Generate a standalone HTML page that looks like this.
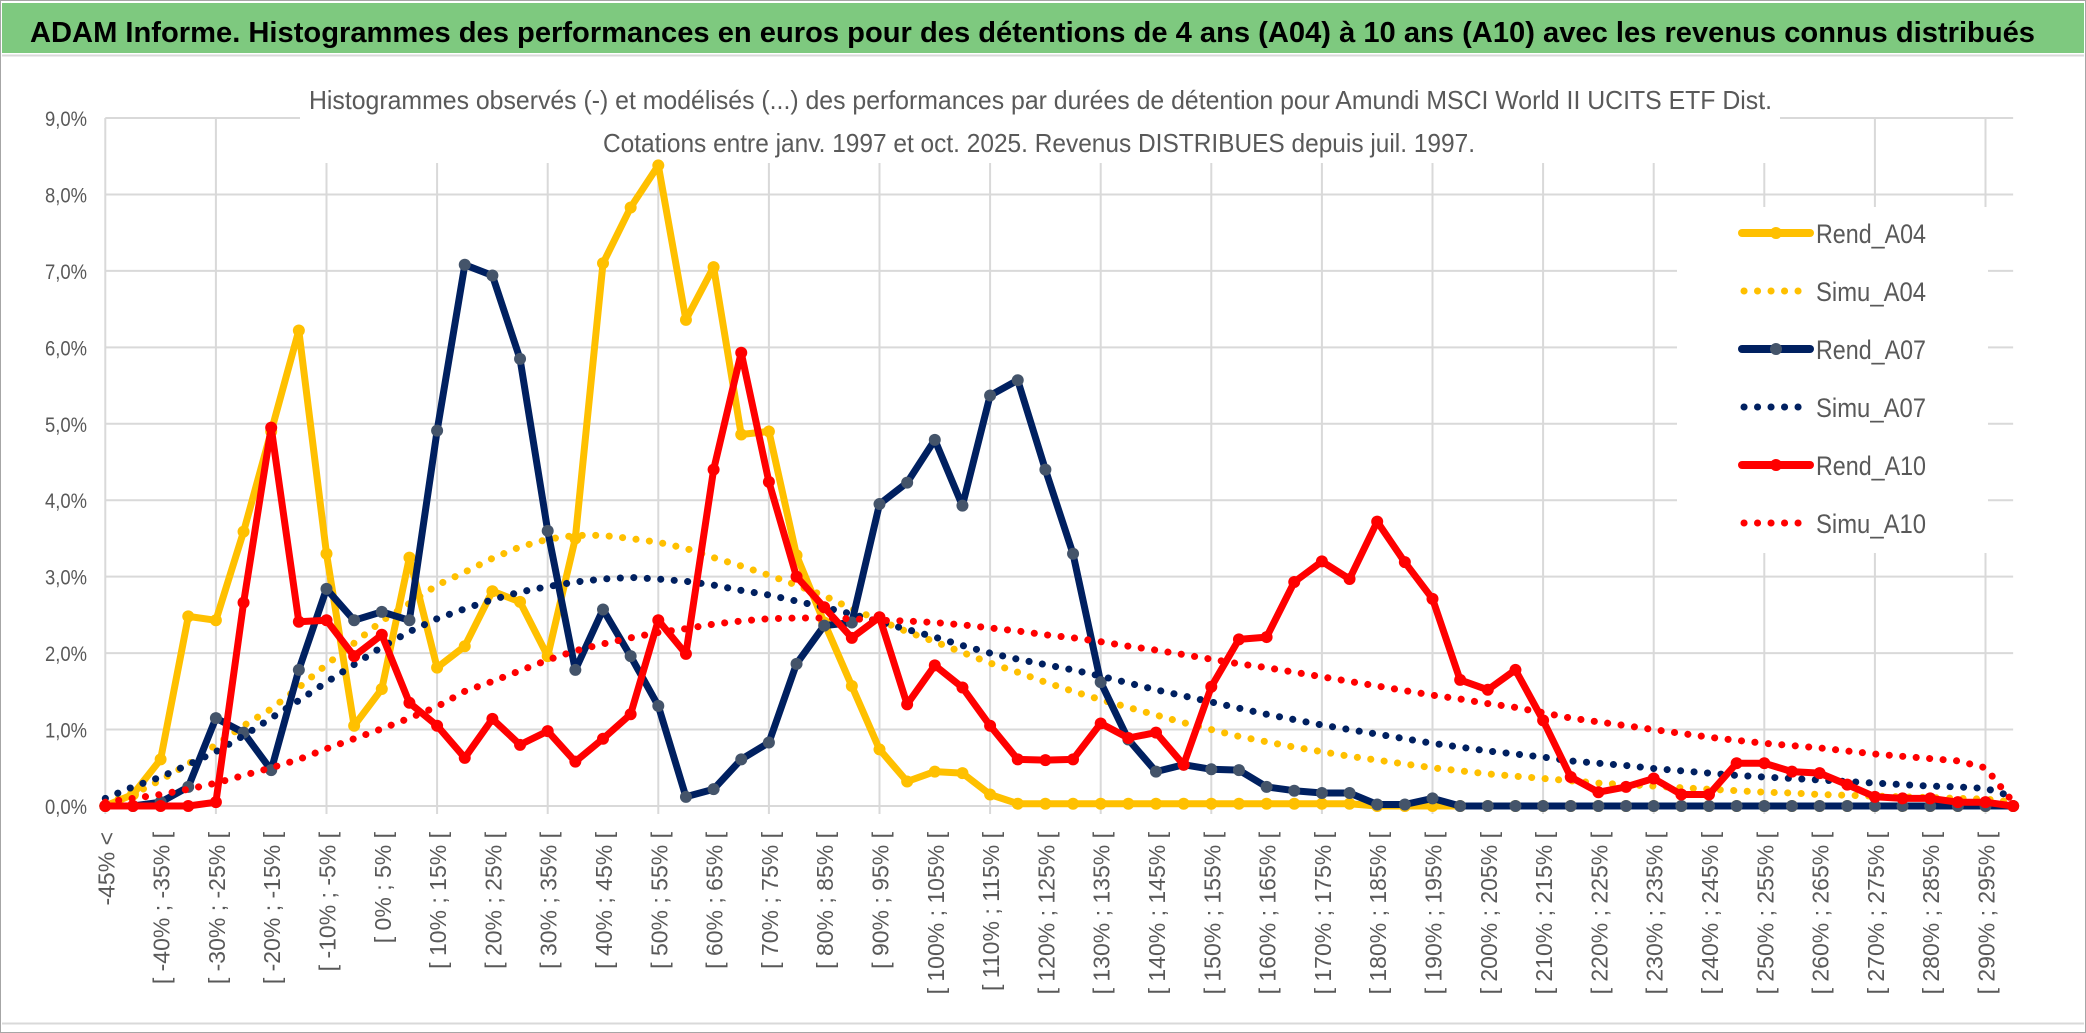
<!DOCTYPE html>
<html><head><meta charset="utf-8"><style>
html,body{margin:0;padding:0;background:#fff;}
svg{display:block;font-family:"Liberation Sans",sans-serif;}
</style></head><body>
<svg id="chart" width="2086" height="1033" viewBox="0 0 2086 1033" xmlns="http://www.w3.org/2000/svg">
<rect x="0.5" y="0.5" width="2085" height="1032" fill="#fff" stroke="#a6a6a6"/>
<rect x="2" y="3" width="2082" height="50" fill="#7ec97f"/>
<line x1="2" y1="55.5" x2="2084" y2="55.5" stroke="#d9d9d9" stroke-width="2"/>
<line x1="2" y1="1023.5" x2="2084" y2="1023.5" stroke="#d9d9d9" stroke-width="2"/>
<text x="30" y="42" font-size="29" font-weight="bold" fill="#000" textLength="2005" lengthAdjust="spacingAndGlyphs">ADAM Informe. Histogrammes des performances en euros pour des détentions de 4 ans (A04) à 10 ans (A10) avec les revenus connus distribués</text>
<g id="grid"></g>
<rect x="300" y="62" width="1480" height="101" fill="#fff"/>
<rect x="1677" y="207" width="311" height="346" fill="#fff"/>
<text x="309" y="109" font-size="26" fill="#595959" textLength="1463" lengthAdjust="spacingAndGlyphs">Histogrammes observés (-) et modélisés (...) des performances par durées de détention pour Amundi MSCI World II UCITS ETF Dist.</text>
<text x="603" y="152" font-size="26" fill="#595959" textLength="872" lengthAdjust="spacingAndGlyphs">Cotations entre janv. 1997 et oct. 2025. Revenus DISTRIBUES depuis juil. 1997.</text>
<g id="yaxis"></g>
<g id="xaxis"></g>
<g id="series"></g>
<g id="legend"></g>
</svg>
<script>
const categories = ["-45% <"];
for (let lo = -45; lo < 300; lo += 5) categories.push("[ " + lo + "% ; " + (lo + 5) + "% [");

const yTicks = [0,1,2,3,4,5,6,7,8,9];
const yTickLabels = ["0,0%","1,0%","2,0%","3,0%","4,0%","5,0%","6,0%","7,0%","8,0%","9,0%"];

const rendA04 = [0,0.15,0.61,2.48,2.43,3.59,4.9,6.22,3.30,1.05,1.53,3.25,1.81,2.09,2.81,2.67,1.96,3.50,7.10,7.83,8.38,6.36,7.05,4.86,4.90,3.28,2.40,1.57,0.74,0.32,0.45,0.43,0.15,0.03,0.03,0.03,0.03,0.03,0.03,0.03,0.03,0.03,0.03,0.03,0.03,0.03,0,0,0,0,0,0,0,0,0,0,0,0,0,0,0,0,0,0,0,0,0,0,0,0];
const simuA04 = [0.05,0.15,0.34,0.55,0.8,1.05,1.27,1.55,1.85,2.13,2.42,2.65,2.89,3.06,3.24,3.39,3.49,3.54,3.54,3.50,3.45,3.37,3.25,3.14,3.02,2.89,2.75,2.58,2.43,2.28,2.15,2.01,1.87,1.75,1.62,1.50,1.39,1.29,1.19,1.09,1.00,0.91,0.84,0.77,0.71,0.65,0.60,0.55,0.50,0.46,0.42,0.39,0.36,0.33,0.30,0.28,0.26,0.24,0.22,0.20,0.18,0.17,0.15,0.14,0.13,0.12,0.11,0.10,0.09,0.05];
const rendA07 = [0,0,0.05,0.25,1.15,0.96,0.47,1.78,2.84,2.43,2.54,2.43,4.91,7.08,6.94,5.85,3.60,1.78,2.57,1.96,1.31,0.12,0.22,0.61,0.83,1.86,2.36,2.40,3.95,4.23,4.79,3.93,5.37,5.57,4.40,3.30,1.62,0.87,0.45,0.54,0.48,0.47,0.25,0.20,0.17,0.17,0.02,0.02,0.10,0,0,0,0,0,0,0,0,0,0,0,0,0,0,0,0,0,0,0,0,0];
const simuA07 = [0.1,0.25,0.38,0.54,0.71,0.92,1.15,1.38,1.62,1.85,2.08,2.28,2.45,2.58,2.70,2.80,2.87,2.93,2.97,2.99,2.97,2.94,2.89,2.82,2.76,2.68,2.60,2.51,2.41,2.31,2.21,2.10,2.00,1.92,1.85,1.78,1.70,1.61,1.52,1.44,1.36,1.28,1.20,1.13,1.06,1.00,0.94,0.88,0.82,0.77,0.72,0.68,0.64,0.59,0.56,0.53,0.49,0.46,0.43,0.40,0.38,0.36,0.34,0.32,0.30,0.28,0.26,0.25,0.23,0.12];
const rendA10 = [0,0,0,0,0.05,2.66,4.95,2.41,2.43,1.96,2.24,1.35,1.05,0.63,1.14,0.80,0.98,0.58,0.88,1.20,2.43,1.99,4.40,5.93,4.24,3.00,2.60,2.20,2.47,1.33,1.84,1.55,1.05,0.61,0.60,0.61,1.08,0.89,0.96,0.54,1.56,2.18,2.21,2.93,3.20,2.97,3.72,3.19,2.71,1.65,1.52,1.78,1.12,0.38,0.18,0.25,0.36,0.15,0.15,0.56,0.56,0.45,0.43,0.28,0.12,0.10,0.10,0.05,0.05,0];
const simuA10 = [0.05,0.1,0.15,0.22,0.30,0.40,0.50,0.61,0.75,0.88,1.01,1.15,1.30,1.50,1.63,1.77,1.91,2.03,2.12,2.20,2.27,2.32,2.38,2.42,2.45,2.46,2.46,2.45,2.43,2.42,2.40,2.37,2.33,2.29,2.24,2.20,2.15,2.09,2.04,1.98,1.92,1.86,1.81,1.75,1.69,1.63,1.57,1.51,1.45,1.40,1.34,1.29,1.22,1.15,1.10,1.05,1.00,0.95,0.90,0.86,0.82,0.79,0.76,0.72,0.68,0.65,0.62,0.59,0.50,0.05];

const seriesNames = ["Rend_A04","Simu_A04","Rend_A07","Simu_A07","Rend_A10","Simu_A10"];

const NS = "http://www.w3.org/2000/svg";
const X0 = 105.3, DX = 27.65, Y0 = 806, DY = 76.44;
function xPos(i){ return X0 + i * DX; }
function yPos(v){ return Y0 - v * DY; }
function mk(tag, attrs, parent){ const e = document.createElementNS(NS, tag); for (const k in attrs) e.setAttribute(k, attrs[k]); parent.appendChild(e); return e; }

const grid = document.getElementById('grid');
for (let t = 0; t < yTicks.length; t++) {
  const ln = mk('line', {x1: X0, x2: xPos(categories.length - 1), y1: yPos(yTicks[t]), y2: yPos(yTicks[t]), stroke: '#d9d9d9', 'stroke-width': 2}, grid);
  
  
}
for (let i = 0; i < categories.length; i += 4) {
  const ln = mk('line', {x1: xPos(i), x2: xPos(i), y1: yPos(9), y2: Y0 + 8, stroke: '#d9d9d9', 'stroke-width': 2}, grid);
  
  
}

const yaxis = document.getElementById('yaxis');
for (let t = 0; t < yTicks.length; t++) {
  const tx = mk('text', {x: 87, y: yPos(yTicks[t]) + 8, 'font-size': 21, fill: '#595959', 'text-anchor': 'end', textLength: 42, lengthAdjust: 'spacingAndGlyphs'}, yaxis);
  tx.textContent = yTickLabels[t];
  
  
}

const xaxis = document.getElementById('xaxis');
for (let i = 0; i < categories.length; i += 2) {
  const x = xPos(i) + 9, y = 832;
  const tx = mk('text', {x: x, y: y, 'font-size': 23, fill: '#595959', 'text-anchor': 'end', transform: 'rotate(-90 ' + x + ' ' + y + ')'}, xaxis);
  tx.textContent = categories[i];
  
  
}

const seriesLayer = document.getElementById('series');
function pathFor(vals){ return vals.map((v, i) => (i ? 'L' : 'M') + xPos(i).toFixed(1) + ' ' + yPos(v).toFixed(1)).join(' '); }
function drawSimu(vals, color, name){
  const p = mk('path', {d: pathFor(vals), fill: 'none', stroke: color, 'stroke-width': 7, 'stroke-linecap': 'round', 'stroke-dasharray': '0.1 13.4'}, seriesLayer);
  
  
}
function drawRend(vals, color, markerColor, name){
  const g = mk('g', {}, seriesLayer);
  
  
  mk('path', {d: pathFor(vals), fill: 'none', stroke: color, 'stroke-width': 7, 'stroke-linejoin': 'round', 'stroke-linecap': 'round'}, g);
  for (let i = 0; i < vals.length; i++) {
    const c = mk('circle', {cx: xPos(i), cy: yPos(vals[i]), r: 6, fill: markerColor}, g);
    
    
  }
}
drawRend(rendA04, '#ffc000', '#ffc000', 'rend-a04-line');
drawSimu(simuA04, '#ffc000', 'simu-a04-line');
drawRend(rendA07, '#002060', '#44546a', 'rend-a07-line');
drawSimu(simuA07, '#002060', 'simu-a07-line');
drawRend(rendA10, '#ff0000', '#ff0000', 'rend-a10-line');
drawSimu(simuA10, '#ff0000', 'simu-a10-line');

const legend = document.getElementById('legend');
const legColors = ['#ffc000','#ffc000','#002060','#002060','#ff0000','#ff0000'];
const legMarkers = ['#ffc000','#ffc000','#44546a','#44546a','#ff0000','#ff0000'];
for (let k = 0; k < seriesNames.length; k++) {
  const y = 233 + k * 58;
  const g = mk('g', {}, legend);
  
  
  if (k % 2 === 0) {
    mk('line', {x1: 1742, x2: 1810, y1: y, y2: y, stroke: legColors[k], 'stroke-width': 8, 'stroke-linecap': 'round'}, g);
    mk('circle', {cx: 1776, cy: y, r: 6, fill: legMarkers[k]}, g);
  } else {
    mk('line', {x1: 1744, x2: 1806, y1: y, y2: y, stroke: legColors[k], 'stroke-width': 7, 'stroke-linecap': 'round', 'stroke-dasharray': '0.1 13.4'}, g);
  }
  const tx = mk('text', {x: 1816, y: y + 10, 'font-size': 27, fill: '#595959', textLength: 110, lengthAdjust: 'spacingAndGlyphs'}, g);
  tx.textContent = seriesNames[k];
}
</script>
</body></html>
